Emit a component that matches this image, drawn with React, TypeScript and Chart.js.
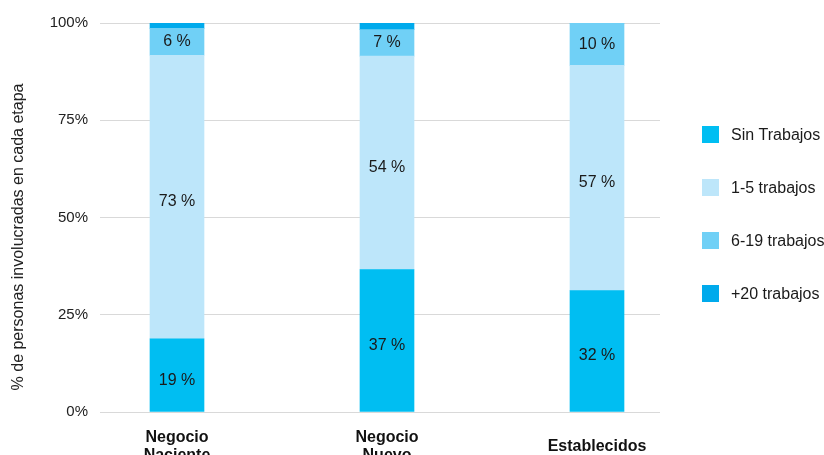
import React, { useEffect, useRef } from "react";
import { Chart, registerables } from "chart.js";

Chart.register(...registerables);

const categories: string[][] = [["Negocio", "Naciente"], ["Negocio", "Nuevo"], ["Establecidos"]];
const seriesNames = ["Sin Trabajos", "1-5 trabajos", "6-19 trabajos", "+20 trabajos"];
const sinTrabajos = [18.8, 36.6, 31.2];
const trabajos1a5 = [72.9, 54.9, 57.9];
const trabajos6a19 = [6.9, 6.8, 10.9];
const trabajos20mas = [1.4, 1.7, 0];
const labelsSin = ["19 %", "37 %", "32 %"];
const labels1a5 = ["73 %", "54 %", "57 %"];
const labels6a19 = ["6 %", "7 %", "10 %"];
const yTicks = [0, 25, 50, 75, 100];
const yTitle = "% de personas involucradas en cada etapa";
const colors = ["#00BEF2", "#BDE6FA", "#70D0F6", "#00AAEC"];

const FONT = "'Liberation Sans', Arial, Helvetica, sans-serif";

export default function App() {
  const ref = useRef<HTMLCanvasElement | null>(null);
  useEffect(() => {
    if (!ref.current) return;
    const series = [sinTrabajos, trabajos1a5, trabajos6a19, trabajos20mas];
    const segLabels = [labelsSin, labels1a5, labels6a19, ["", "", ""]];
    const datasets = series.map((vals, i) => ({
      label: seriesNames[i],
      data: vals.map((v, j) => ({ x: j, y: v })),
      backgroundColor: colors[i],
      borderWidth: 0,
      barThickness: 54,
    }));

    const overlay = {
      id: "overlay",
      afterDatasetsDraw(chart: any) {
        const ctx = chart.ctx;
        ctx.save();
        ctx.font = `16px ${FONT}`;
        ctx.fillStyle = "#1a1a1a";
        ctx.textAlign = "center";
        ctx.textBaseline = "middle";
        chart.data.datasets.forEach((_: any, i: number) => {
          const meta = chart.getDatasetMeta(i);
          meta.data.forEach((bar: any, j: number) => {
            const t = segLabels[i][j];
            if (!t) return;
            const h = Math.abs(bar.base - bar.y);
            const shift = h > 60 ? 5 : 0;
            ctx.fillText(t, bar.x, (bar.y + bar.base) / 2 + shift);
          });
        });
        // Y title
        ctx.save();
        ctx.translate(19, 237);
        ctx.rotate(-Math.PI / 2);
        ctx.fillStyle = "#222";
        ctx.fillText(yTitle, 0, 0);
        ctx.restore();
        // Legend
        const lx = chart.chartArea.right + 42;
        const ly0 = 134.5;
        const step = 53;
        ctx.textAlign = "left";
        seriesNames.forEach((name, i) => {
          const cy = ly0 + i * step;
          ctx.fillStyle = colors[i];
          ctx.fillRect(lx, cy - 8.5, 17, 17);
          ctx.fillStyle = "#1a1a1a";
          ctx.fillText(name, lx + 29, cy + 1);
        });
        ctx.restore();
      },
    };

    const chart = new Chart(ref.current, {
      type: "bar",
      data: { datasets: datasets as any },
      options: {
        animation: false,
        responsive: false,
        maintainAspectRatio: false,
        layout: { padding: { top: 23, right: 164, left: 0, bottom: 0 } },
        plugins: { legend: { display: false }, tooltip: { enabled: false } },
        scales: {
          x: {
            type: "linear",
            stacked: true,
            offset: false,
            min: -77 / 210,
            max: 2 + 63 / 210,
            grid: { display: false },
            border: { display: false },
            afterFit: (s: any) => {
              s.height = 43;
            },
            afterBuildTicks: (s: any) => {
              s.ticks = categories.map((_, i) => ({ value: i }));
            },
            ticks: {
              autoSkip: false,
              maxRotation: 0,
              padding: 18,
              crossAlign: "center",
              color: "#111",
              font: { family: FONT, size: 16, weight: "bold", lineHeight: 1.1 },
              callback: (v: any) => categories[v as number] ?? "",
            },
          },
          y: {
            stacked: true,
            min: 0,
            max: 100,
            afterFit: (s: any) => {
              s.width = 100;
            },
            afterBuildTicks: (s: any) => {
              s.ticks = yTicks.map((v) => ({ value: v }));
            },
            grid: { color: "#d9d9d9", lineWidth: 1, drawTicks: false },
            border: { display: false },
            ticks: {
              padding: 12,
              color: "#222",
              font: { family: FONT, size: 15 },
              callback: (v: any) => `${v}%`,
            },
          },
        },
      },
      plugins: [overlay],
    });
    return () => chart.destroy();
  }, []);

  return (
    <div style={{ position: "absolute", left: 0, top: 0, width: 824, height: 455 }}>
      <canvas ref={ref} width={824} height={455} style={{ width: 824, height: 455 }} />
    </div>
  );
}
